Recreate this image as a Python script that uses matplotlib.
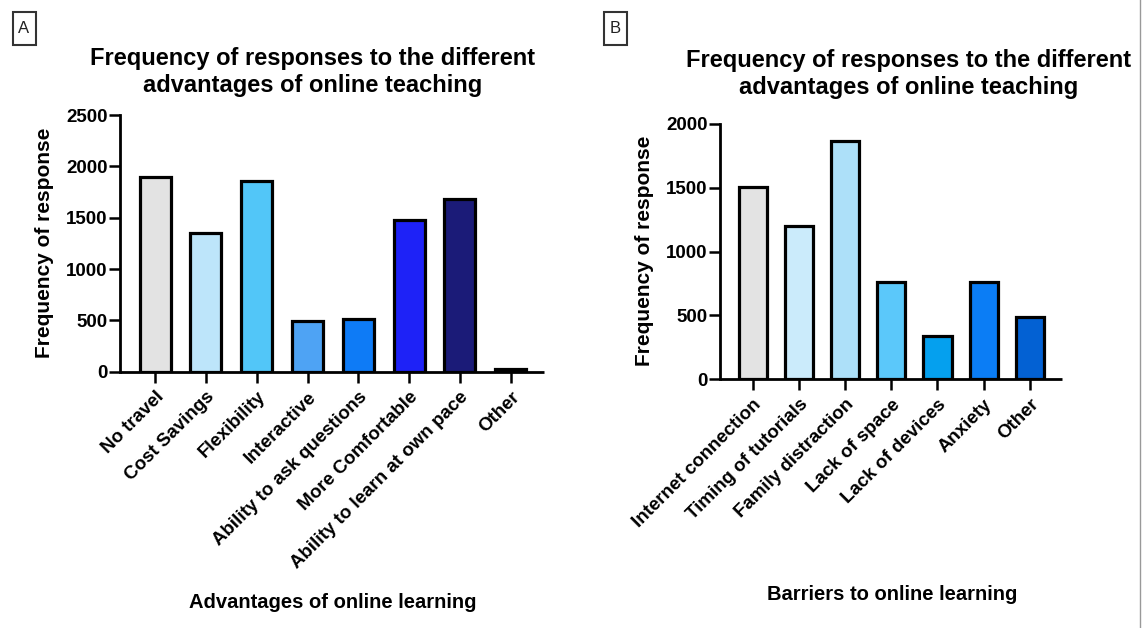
import matplotlib
matplotlib.use("Agg")
import matplotlib.pyplot as plt
from matplotlib.patches import Rectangle
from matplotlib.lines import Line2D

# ---------------- data ----------------
adv_categories = ["No travel", "Cost Savings", "Flexibility", "Interactive",
                  "Ability to ask questions", "More Comfortable",
                  "Ability to learn at own pace", "Other"]
adv_values = [1895, 1355, 1862, 495, 510, 1480, 1685, 25]
adv_colors = ["#E3E3E3", "#BDE5FA", "#52C6F8", "#4EA3F4",
              "#0E7BF6", "#1E22F7", "#1B1B78", "#0A1F5C"]
adv_yticks = [0, 500, 1000, 1500, 2000, 2500]

bar_categories = ["Internet connection", "Timing of tutorials", "Family distraction",
                  "Lack of space", "Lack of devices", "Anxiety", "Other"]
bar_values = [1505, 1200, 1870, 760, 338, 760, 490]
bar_colors = ["#E3E3E3", "#CBEBFB", "#ADE0F9", "#5BC8FA",
              "#05A0EE", "#0B7DF5", "#0361D3"]
bar_yticks = [0, 500, 1000, 1500, 2000]

title_text = "Frequency of responses to the different\nadvantages of online teaching"
ylabel_text = "Frequency of response"
xlabel_a = "Advantages of online learning"
xlabel_b = "Barriers to online learning"

# ---------------- style ----------------
plt.rcParams['font.family'] = ['Liberation Sans', 'DejaVu Sans']
plt.rcParams['font.weight'] = 'bold'

W, H = 1142, 628
fig = plt.figure(figsize=(W / 100, H / 100), dpi=100)
fig.patch.set_facecolor("white")


def fx(px):
    return px / W


def fy(py):
    return 1 - py / H


def make_panel(rect, cats, vals, cols, yticks, xlim):
    ax = fig.add_axes(rect)
    x = list(range(len(cats)))
    ax.bar(x, vals, width=0.61, color=cols, edgecolor="black",
           linewidth=2.3, zorder=3)
    ax.set_xlim(*xlim)
    ax.set_ylim(yticks[0], yticks[-1])
    ax.set_yticks(yticks)
    ax.set_yticklabels([str(v) for v in yticks], fontsize=13.5, fontweight="bold")
    ax.set_xticks(x)
    ax.set_xticklabels(cats, rotation=45, ha="right", va="top",
                       rotation_mode="anchor", fontsize=13.5, fontweight="bold")
    for s in ["top", "right"]:
        ax.spines[s].set_visible(False)
    for s in ["left", "bottom"]:
        ax.spines[s].set_linewidth(2.0)
        ax.spines[s].set_zorder(4)
    ax.spines["bottom"].set_capstyle("butt")
    ax.tick_params(axis="y", length=8, width=1.8, pad=1)
    ax.tick_params(axis="x", length=8, width=1.8, pad=4)
    ax.set_facecolor("none")
    return ax


# Panel A
axA = make_panel([fx(120), fy(371.7), fx(544.3) - fx(120), fy(115) - fy(371.7)],
                 adv_categories, adv_values, adv_colors, adv_yticks, (-0.69, 7.66))
# Panel B
axB = make_panel([fx(720), fy(379.3), fx(1061.7) - fx(720), fy(124) - fy(379.3)],
                 bar_categories, bar_values, bar_colors, bar_yticks, (-0.71, 6.69))

# y labels
fig.text(fx(45), fy(243), ylabel_text, rotation=90, ha="center", va="center",
         fontsize=15, fontweight="bold")
fig.text(fx(645), fy(251), ylabel_text, rotation=90, ha="center", va="center",
         fontsize=15, fontweight="bold")

# x labels
fig.text(fx(333), fy(603), xlabel_a, ha="center", va="center",
         fontsize=14.5, fontweight="bold")
fig.text(fx(892), fy(595), xlabel_b, ha="center", va="center",
         fontsize=14.5, fontweight="bold")

# titles
fig.text(fx(313), fy(92), title_text, ha="center", va="baseline",
         fontsize=17, fontweight="bold", linespacing=1.25)
fig.text(fx(909), fy(94), title_text, ha="center", va="baseline",
         fontsize=17, fontweight="bold", linespacing=1.25)

# panel letters in boxes
for letter, x0 in [("A", 12.5), ("B", 604)]:
    rect = Rectangle((fx(x0), fy(45)), fx(23), fy(12) - fy(45),
                     transform=fig.transFigure, facecolor="white",
                     edgecolor="#333333", linewidth=1.5)
    fig.patches.append(rect)
    fig.text(fx(x0 + 11.5), fy(28.5), letter, ha="center", va="center",
             fontsize=12, fontweight="normal", color="#222222")

# right edge line
fig.add_artist(Line2D([fx(1140), fx(1140)], [0, 1], transform=fig.transFigure,
                      color="#999999", linewidth=1))

fig.savefig("out.png", dpi=100, facecolor="white")
